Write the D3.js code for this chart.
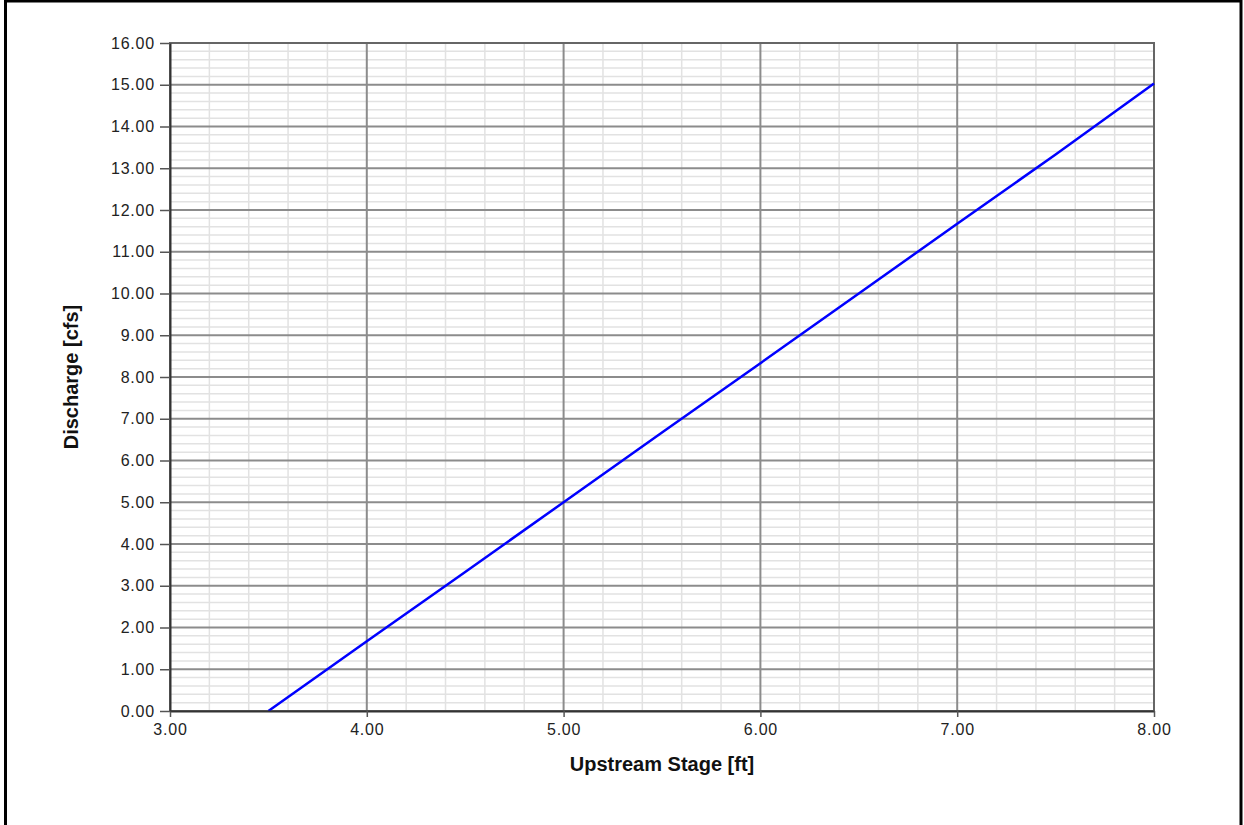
<!DOCTYPE html>
<html>
<head>
<meta charset="utf-8">
<script src="https://cdn.jsdelivr.net/npm/d3@7"></script>
<style>
  body { margin: 0; background: #fff; }
  text { font-family: "Liberation Sans", Arial, sans-serif; }
</style>
</head>
<body>
<div id="chart"></div>
<script>
// rating curve values
var stage = [3.5, 4.0, 4.5, 5.0, 5.5, 6.0, 6.5, 7.0, 7.5, 8.0];
var discharge = [0.00, 1.67, 3.33, 5.00, 6.67, 8.33, 10.00, 11.67, 13.33, 15.03];
var xTicks = [3, 4, 5, 6, 7, 8];
var yTicks = [0, 1, 2, 3, 4, 5, 6, 7, 8, 9, 10, 11, 12, 13, 14, 15, 16];

var W = 1244, H = 825;
var margin = {top: 43, right: 90, bottom: 114, left: 170},
    width = W - margin.left - margin.right,
    height = H - margin.top - margin.bottom;

var root = d3.select("#chart")
  .append("svg")
    .attr("width", W)
    .attr("height", H);

// outer frame
root.append("rect")
  .attr("x", 5.5).attr("y", 1)
  .attr("width", W - 8.5).attr("height", H + 10)
  .attr("fill", "none")
  .attr("stroke", "#000")
  .attr("stroke-width", 3);

var svg = root.append("g")
  .attr("transform", "translate(" + margin.left + "," + margin.top + ")");

var x = d3.scaleLinear().domain([3, 8]).range([0, width]);
var y = d3.scaleLinear().domain([0, 16]).range([height, 0]);

// minor grid every 0.2
var xMinor = d3.range(3, 8.001, 0.2).filter(function(v){ return Math.abs(v - Math.round(v)) > 0.01; });
var yMinor = d3.range(0, 16.001, 0.2).filter(function(v){ return Math.abs(v - Math.round(v)) > 0.01; });

svg.append("g").selectAll("line")
  .data(yMinor).enter().append("line")
    .attr("x1", 0).attr("x2", width)
    .attr("y1", function(d){ return y(d); }).attr("y2", function(d){ return y(d); })
    .attr("stroke", "#e2e2e2").attr("stroke-width", 1.5);
svg.append("g").selectAll("line")
  .data(xMinor).enter().append("line")
    .attr("y1", 0).attr("y2", height)
    .attr("x1", function(d){ return x(d); }).attr("x2", function(d){ return x(d); })
    .attr("stroke", "#e2e2e2").attr("stroke-width", 1.5);

// major grid
svg.append("g").selectAll("line")
  .data(yTicks).enter().append("line")
    .attr("x1", 0).attr("x2", width)
    .attr("y1", function(d){ return y(d); }).attr("y2", function(d){ return y(d); })
    .attr("stroke", "#8c8c8c").attr("stroke-width", 2);
svg.append("g").selectAll("line")
  .data(xTicks).enter().append("line")
    .attr("y1", 0).attr("y2", height)
    .attr("x1", function(d){ return x(d); }).attr("x2", function(d){ return x(d); })
    .attr("stroke", "#8c8c8c").attr("stroke-width", 2);

// plot border
svg.append("rect")
  .attr("width", width).attr("height", height)
  .attr("fill", "none").attr("stroke", "#666").attr("stroke-width", 2);

// line
var line = d3.line()
  .x(function(d, i){ return x(stage[i]); })
  .y(function(d){ return y(d); });
svg.append("path")
  .datum(discharge)
  .attr("fill", "none")
  .attr("stroke", "#0000ff")
  .attr("stroke-width", 2.5)
  .attr("d", line);

// axes
var xAxis = svg.append("g")
  .attr("transform", "translate(0," + height + ")")
  .call(d3.axisBottom(x).tickValues(xTicks).tickFormat(d3.format(".2f")).tickSizeInner(6).tickSizeOuter(0));
var yAxis = svg.append("g")
  .call(d3.axisLeft(y).tickValues(yTicks).tickFormat(d3.format(".2f")).tickSizeInner(10).tickSizeOuter(0).tickPadding(5));

[xAxis, yAxis].forEach(function(a){
  a.select(".domain").attr("stroke", "#333").attr("stroke-width", 2);
  a.selectAll(".tick line").attr("stroke", "#555").attr("stroke-width", 1.5);
  a.selectAll("text")
    .attr("fill", "#222")
    .style("font-size", "16px")
    .style("letter-spacing", "0.8px")
    .style("font-family", "'Liberation Sans', Arial, sans-serif");
});
xAxis.selectAll("text").attr("dy", "0.95em");

// axis titles
svg.append("text")
  .attr("x", width / 2)
  .attr("y", height + 60)
  .attr("text-anchor", "middle")
  .style("font-size", "20px")
  .style("font-weight", "bold")
  .attr("fill", "#111")
  .text("Upstream Stage [ft]");

svg.append("text")
  .attr("transform", "rotate(-90)")
  .attr("x", -(y(8)))
  .attr("y", -92)
  .attr("text-anchor", "middle")
  .style("font-size", "20px")
  .style("font-weight", "bold")
  .attr("fill", "#111")
  .text("Discharge [cfs]");
</script>
</body>
</html>
